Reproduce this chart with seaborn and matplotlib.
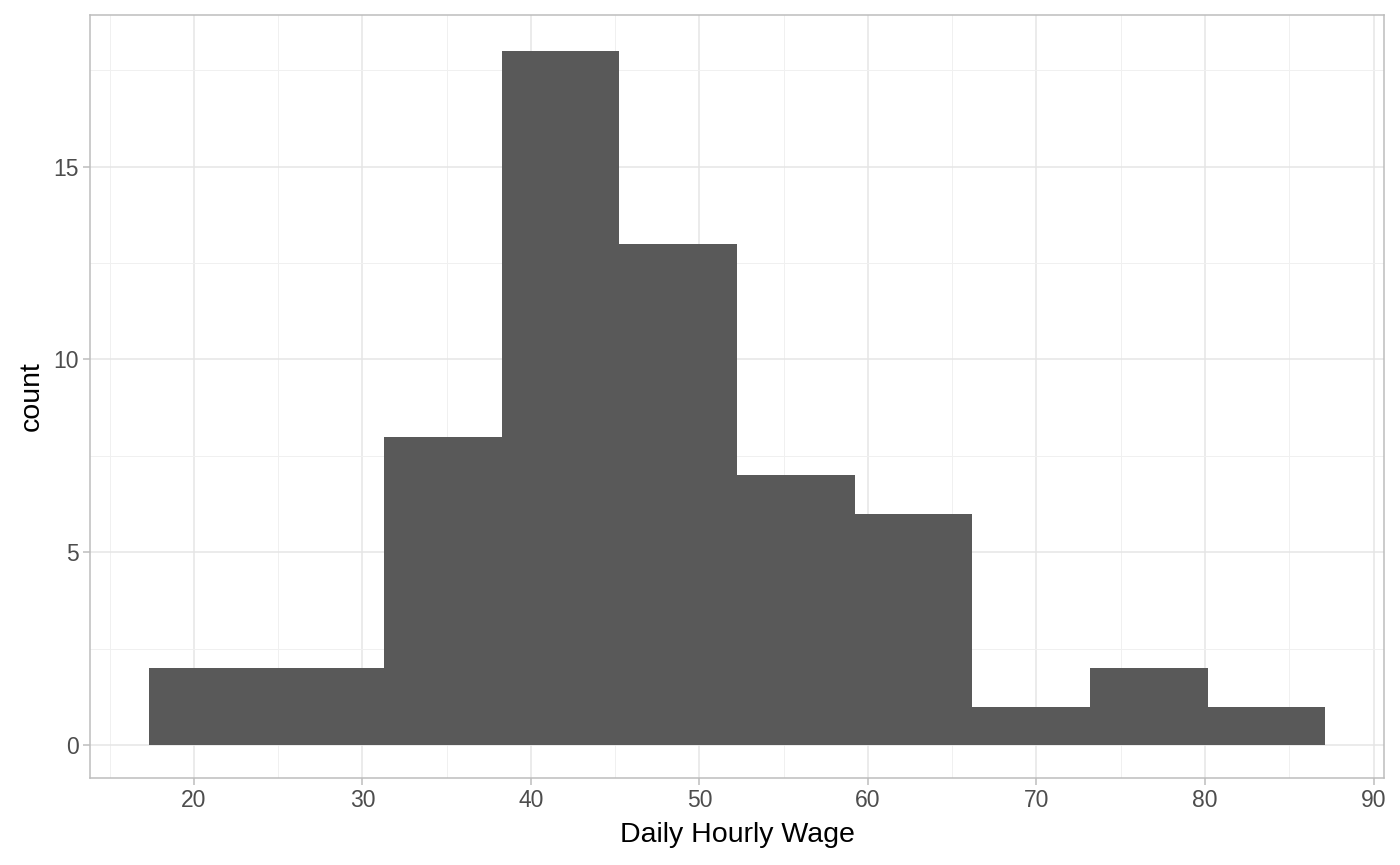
import matplotlib
matplotlib.use("Agg")
import matplotlib.pyplot as plt
import seaborn as sns
import numpy as np

# Histogram bins
bin_edges = [17.33, 24.31, 31.29, 38.27, 45.25, 52.23, 59.21, 66.19, 73.17, 80.15, 87.13]
bin_counts = [2, 2, 8, 18, 13, 7, 6, 1, 2, 1]
x_ticks = [20, 30, 40, 50, 60, 70, 80, 90]
y_ticks = [0, 5, 10, 15]
x_label = "Daily Hourly Wage"
y_label = "count"

centers = [(a + b) / 2 for a, b in zip(bin_edges[:-1], bin_edges[1:])]

sns.set_theme(style="white")
plt.rcParams['font.family'] = ['Liberation Sans', 'DejaVu Sans']

fig = plt.figure(figsize=(14, 8.65), dpi=100)
ax = fig.add_axes([90/1400, 1 - 778/865, (1384-90)/1400, (778-15)/865])

sns.histplot(x=centers, weights=bin_counts, bins=bin_edges, ax=ax,
             color="#595959", alpha=1, edgecolor="none", linewidth=0)

xmin, xmax = bin_edges[0], bin_edges[-1]
xr = xmax - xmin
ax.set_xlim(xmin - 0.05 * xr, xmax + 0.05 * xr)
ax.set_ylim(-0.85, 18.93)

ax.set_xticks(x_ticks)
ax.set_yticks(y_ticks)
ax.set_xticks([15, 25, 35, 45, 55, 65, 75, 85], minor=True)
ax.set_yticks([2.5, 7.5, 12.5, 17.5], minor=True)
ax.grid(True, which="major", color="#E5E5E5", linewidth=1.1)
ax.grid(True, which="minor", color="#F0F0F0", linewidth=0.7)
ax.set_axisbelow(True)

for s in ax.spines.values():
    s.set_color("#BDBDBD")
    s.set_linewidth(1.1)

ax.tick_params(axis="both", which="major", length=5, width=1.1, color="#BDBDBD",
               labelsize=16.5, labelcolor="#4D4D4D", pad=3, bottom=True, left=True)
ax.tick_params(axis="both", which="minor", length=0)

ax.set_xlabel(x_label, fontsize=20.5, color="black", labelpad=7)
ax.set_ylabel(y_label, fontsize=20.5, color="black", labelpad=6)

fig.savefig("out.png", dpi=100)
